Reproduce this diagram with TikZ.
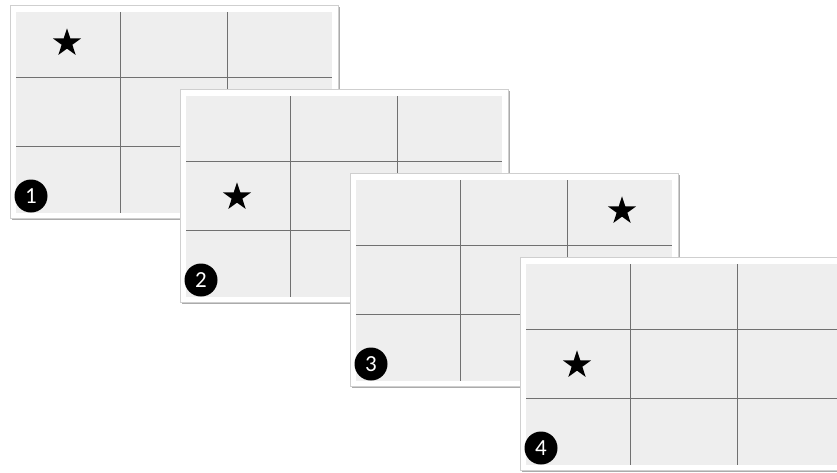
\documentclass[tikz,border=0pt]{standalone}
\usepackage{fontspec}
\setmainfont{Carlito}
\usetikzlibrary{shapes.geometric}
\definecolor{cellgray}{HTML}{EEEEEE}
\definecolor{gridline}{HTML}{707070}
\definecolor{frameedge}{HTML}{CFCFCF}
\definecolor{shadowc}{HTML}{ABABAB}
\tikzset{
  cardshadow/.style={fill=shadowc},
  cardframe/.style={fill=white, draw=frameedge, line width=0.8pt},
  cardfill/.style={fill=cellgray},
  gridln/.style={draw=gridline, line width=0.9pt},
  starmark/.style={star, star points=5, star point ratio=2.618, fill=black,
                   minimum size=29.5pt, inner sep=0pt},
  numbadge/.style={circle, fill=black, minimum size=33pt, inner sep=0pt,
                   text=white, font=\fontsize{23}{23}\selectfont}
}
\begin{document}
\begin{tikzpicture}[x=1pt,y=-1pt]
\useasboundingbox (0,0) rectangle (837,472);
\clip (0,0) rectangle (837,472);
\foreach \i/\sx/\sy in {0/67/43, 1/67/113, 2/282/43, 3/67/113}{
  \begin{scope}[shift={(170*\i,84*\i)}]
    \fill[cardshadow] (11.5,6.5) rectangle (339.5,219.8);
    \path[cardframe] (10,5) rectangle (338,218);
    \fill[cardfill] (16,12) rectangle (332,213);
    \draw[gridln] (120,12) -- (120,213);
    \draw[gridln] (227,12) -- (227,213);
    \draw[gridln] (16,77) -- (332,77);
    \draw[gridln] (16,146) -- (332,146);
    \node[starmark] (star\i) at (\sx,\sy) {};
    \pgfmathtruncatemacro{\num}{\i+1}
    \node[numbadge] (badge\i) at (31,196) {\num};
  \end{scope}
}
\end{tikzpicture}
\end{document}
